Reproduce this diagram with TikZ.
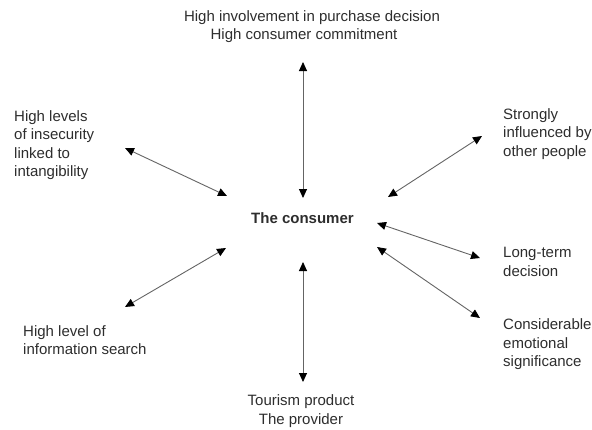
\documentclass[tikz,border=0pt]{standalone}
\usepackage{fontspec}
\setmainfont{Liberation Sans}
\usetikzlibrary{arrows.meta}
\definecolor{txtc}{RGB}{45,45,45}
\definecolor{linec}{RGB}{100,100,100}
\tikzset{
  lbl/.style={inner sep=0pt, text=txtc, font=\fontsize{15}{18.5}\selectfont},
  lblL/.style={lbl, anchor=west, align=left},
  lblC/.style={lbl, align=center},
  twoway/.style={draw=linec, line width=0.9pt,
    {Triangle[length=9pt,width=8pt,fill=black,color=black]}-{Triangle[length=9pt,width=8pt,fill=black,color=black]}}
}
\begin{document}
\begin{tikzpicture}[x=1pt,y=-1pt]
\useasboundingbox (0,0) rectangle (592,429);
% texts
\node[lbl] (top1) at (312,18) {High involvement in purchase decision};
\node[lbl] (top2) at (304,35.5) {High consumer commitment};
\node[lbl, font=\fontsize{15}{18.5}\selectfont\bfseries] (cons) at (302.5,218) {The consumer};
\node[lblL] (ul) at (14,145) {High levels\\of insecurity\\linked to\\intangibility};
\node[lblL] (ur) at (503,134) {Strongly\\influenced by\\other people};
\node[lblL] (ll) at (23,340) {High level of\\information search};
\node[lblL] (lt) at (503,262) {Long-term\\decision};
\node[lblL] (cs) at (503,344.5) {Considerable\\emotional\\significance};
\node[lblC] (bot) at (301,411) {Tourism product\\The provider};
% arrow end points
\coordinate (tA) at (303,62);   \coordinate (tB) at (303,198);
\coordinate (bA) at (303,262);  \coordinate (bB) at (303,382);
\coordinate (ulA) at (125,148); \coordinate (ulB) at (227,196);
\coordinate (llA) at (226,248); \coordinate (llB) at (125,307);
\coordinate (urA) at (482,136); \coordinate (urB) at (388,197);
\coordinate (ltA) at (377,223); \coordinate (ltB) at (480,258);
\coordinate (csA) at (377,247); \coordinate (csB) at (480,318);
% arrows
\draw[twoway] (tA) -- (tB);
\draw[twoway] (bA) -- (bB);
\draw[twoway] (ulA) -- (ulB);
\draw[twoway] (llA) -- (llB);
\draw[twoway] (urA) -- (urB);
\draw[twoway] (ltA) -- (ltB);
\draw[twoway] (csA) -- (csB);
\end{tikzpicture}
\end{document}
